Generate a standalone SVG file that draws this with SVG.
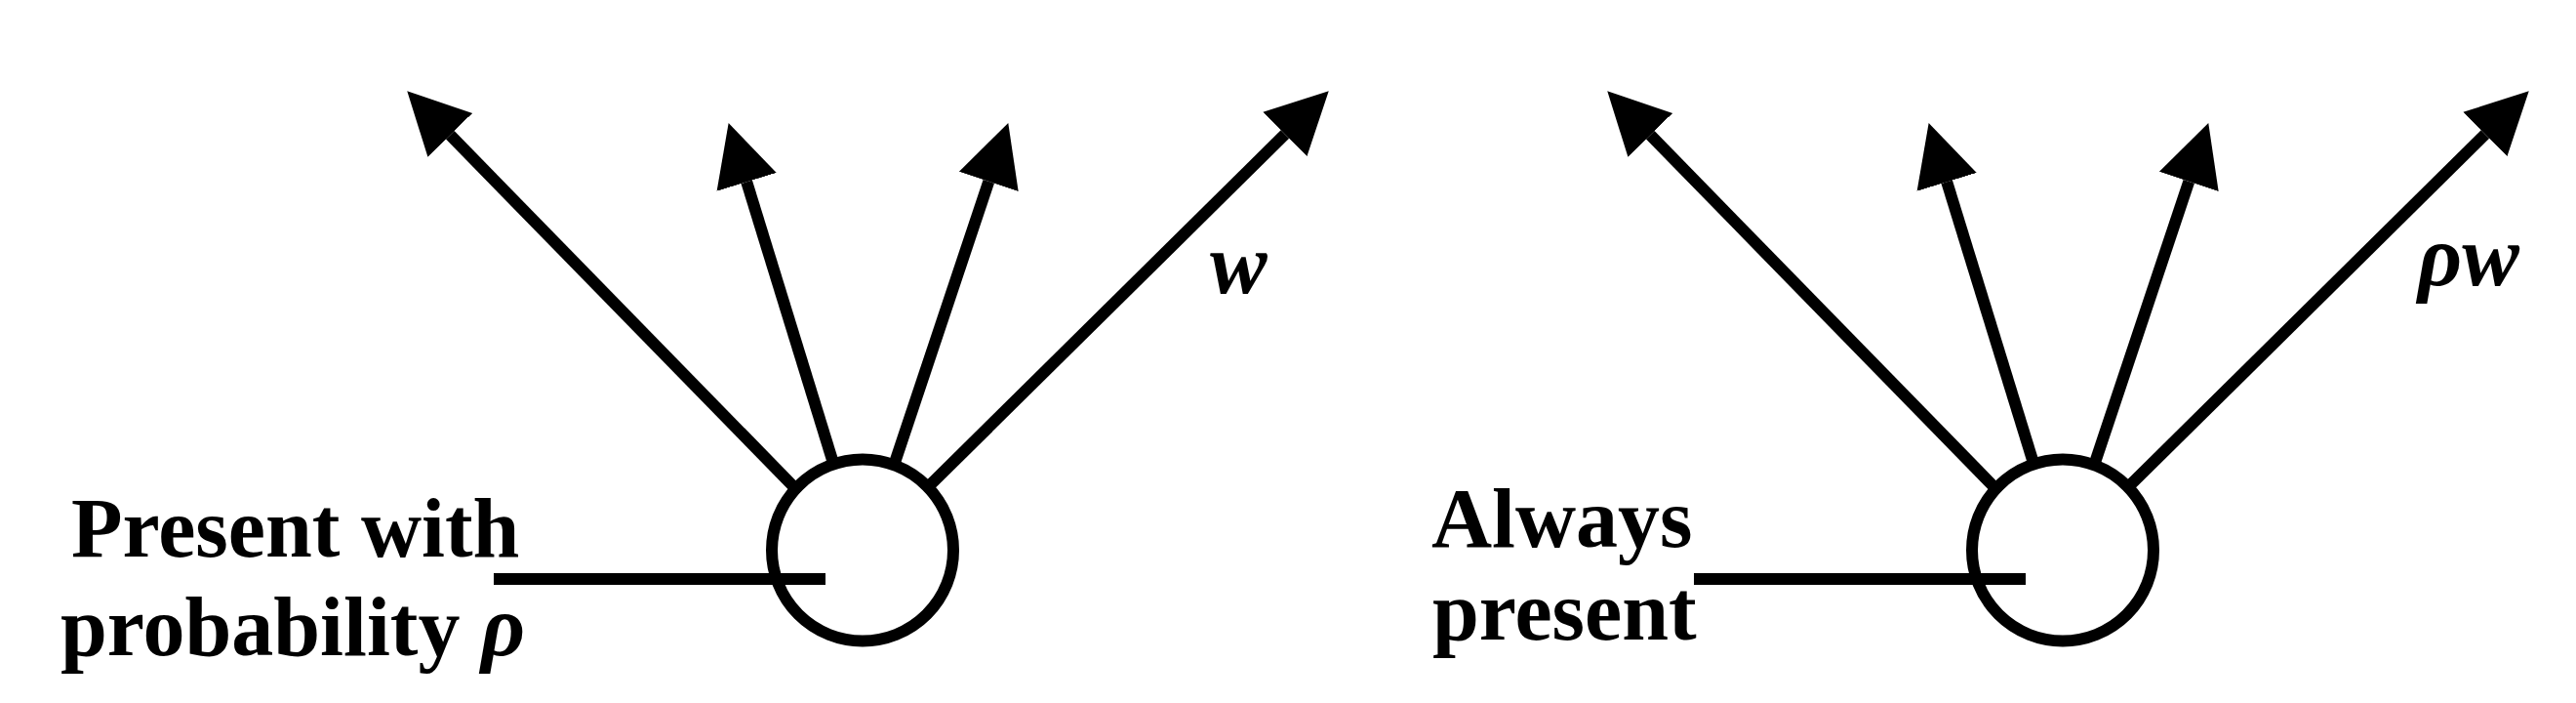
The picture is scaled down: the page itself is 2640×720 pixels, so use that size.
<svg xmlns="http://www.w3.org/2000/svg" width="2640" height="720" viewBox="0 0 2640 720">
  <style>
    .conn { stroke: #000; stroke-width: 12; fill: none; }
    .arrow { marker-end: url(#head); }
    .node { stroke: #000; stroke-width: 12; fill: #fff; }
    .lbl { font-family: "Liberation Serif", "Times New Roman", serif; font-weight: bold; font-size: 86px; fill: #000; }
    .math { font-family: "Liberation Serif", "Times New Roman", serif; font-weight: bold; font-style: italic; font-size: 88px; fill: #000; }
  </style>
  <defs>
    <marker id="head" markerUnits="userSpaceOnUse" markerWidth="66" markerHeight="68" viewBox="0 -34 66 68" refX="0" refY="0" orient="auto">
      <path d="M0,-32 L63,0 L0,32 z" fill="#000"/>
    </marker>
  </defs>
  <rect width="2640" height="720" fill="#fff"/>

  <g id="node-left">
    <circle class="node" cx="884" cy="563.5" r="93"/>
  </g>
  <g id="node-right">
    <circle class="node" cx="2114" cy="563.5" r="93"/>
  </g>

  <g id="connectors">
    <!-- left node outputs -->
    <line class="conn arrow" x1="813.5" y1="498.6" x2="461.3" y2="138.3"/>
    <line class="conn arrow" x1="853.5" y1="472.8" x2="765.2" y2="186.3"/>
    <line class="conn arrow" x1="917.4" y1="472.7" x2="1013.3" y2="185.8"/>
    <line class="conn arrow" x1="953.4" y1="496.5" x2="1316.9" y2="137.6"/>
    <!-- right node outputs -->
    <line class="conn arrow" x1="2043.5" y1="498.6" x2="1691.3" y2="138.3"/>
    <line class="conn arrow" x1="2083.5" y1="472.8" x2="1995.2" y2="186.3"/>
    <line class="conn arrow" x1="2147.4" y1="472.7" x2="2243.3" y2="185.8"/>
    <line class="conn arrow" x1="2183.4" y1="496.5" x2="2546.9" y2="137.6"/>
    <!-- inputs -->
    <line x1="506" y1="593" x2="846" y2="593" stroke="#000" stroke-width="12"/>
    <line x1="1736" y1="593" x2="2076" y2="593" stroke="#000" stroke-width="12"/>
  </g>

  <g id="labels">
    <text class="math" x="1240" y="300">w</text>
    <text class="math" x="2478" y="292">ρw</text>
    <text class="lbl" x="73" y="570">Present with</text>
    <text class="lbl" x="62" y="671">probability <tspan class="math">ρ</tspan></text>
    <text class="lbl" x="1467" y="560">Always</text>
    <text class="lbl" x="1468" y="655">present</text>
  </g>
</svg>
